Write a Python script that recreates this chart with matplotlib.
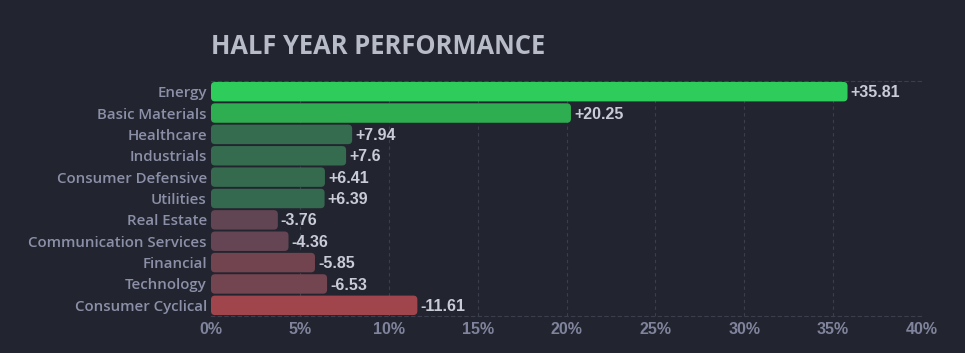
import matplotlib
matplotlib.use("Agg")
import matplotlib.pyplot as plt
from matplotlib.patches import FancyBboxPatch

sectors = ["Energy", "Basic Materials", "Healthcare", "Industrials", "Consumer Defensive",
           "Utilities", "Real Estate", "Communication Services", "Financial", "Technology",
           "Consumer Cyclical"]
values = [35.81, 20.25, 7.94, 7.6, 6.41, 6.39, -3.76, -4.36, -5.85, -6.53, -11.61]
labels = ["+35.81", "+20.25", "+7.94", "+7.6", "+6.41", "+6.39", "-3.76", "-4.36", "-5.85", "-6.53", "-11.61"]
colors = ["#2ecc5a", "#2eae50", "#356c4f", "#356b4f", "#356a4f", "#35694f",
          "#624552", "#654553", "#724450", "#734550", "#a0454c"]
xticks = [0, 5, 10, 15, 20, 25, 30, 35, 40]

BG = "#22252f"
fig = plt.figure(figsize=(9.65, 3.53), dpi=100, facecolor=BG)
ax = fig.add_axes([211/965, 1-316/353, (922-211)/965, (316-81)/353], facecolor=BG)

n = len(sectors)
ypos = list(range(n))
widths = [abs(v) for v in values]
bars = ax.barh(ypos, widths, height=0.91, color=colors, alpha=0)
ax.set_xlim(0, 40)
ax.set_ylim(n - 0.5, -0.5)

# rounded bars
px_x = (922-211) / 40.0
px_y = (316-81) / n
r = 4.0 / px_x
for b, c in zip(bars, colors):
    x0, y0 = b.get_x(), b.get_y()
    w, h = b.get_width(), b.get_height()
    p = FancyBboxPatch((x0, y0), w, h, boxstyle=f"round,pad=0,rounding_size={r}",
                       mutation_aspect=px_x/px_y, facecolor=c, edgecolor="none", zorder=3)
    ax.add_patch(p)

for yi, w, t in zip(ypos, widths, labels):
    ax.text(w + 0.17, yi + 0.05, t, va="center", ha="left", color="#c9cbd6",
            fontsize=11.5, fontweight="bold", family="Liberation Sans", zorder=4)

ax.set_yticks(ypos)
ax.set_yticklabels(sectors, family="Open Sans", fontsize=10.8, color="#8b90a8", fontweight="semibold")
ax.set_xticks(xticks)
ax.set_xticklabels([f"{x}%" for x in xticks], family="Liberation Sans", fontsize=11.5,
                   color="#7f849c", fontweight="bold")
ax.tick_params(axis="both", length=0, pad=3)
ax.tick_params(axis="x", pad=4)

for x in xticks[1:]:
    ax.axvline(x, color="#3b3f4d", lw=0.8, ls=(0, (3, 3)), zorder=1)
for s in ["top", "bottom"]:
    ax.spines[s].set_color("#3b3f4d")
    ax.spines[s].set_linestyle((0, (3, 3)))
    ax.spines[s].set_linewidth(0.8)
for s in ["left", "right"]:
    ax.spines[s].set_visible(False)

fig.text(211/965, 1-46/353, "HALF YEAR PERFORMANCE", color="#b8bbc8", fontsize=18.4,
         fontweight="bold", family="Open Sans", va="center", ha="left")

fig.savefig("out.png", dpi=100, facecolor=BG)
